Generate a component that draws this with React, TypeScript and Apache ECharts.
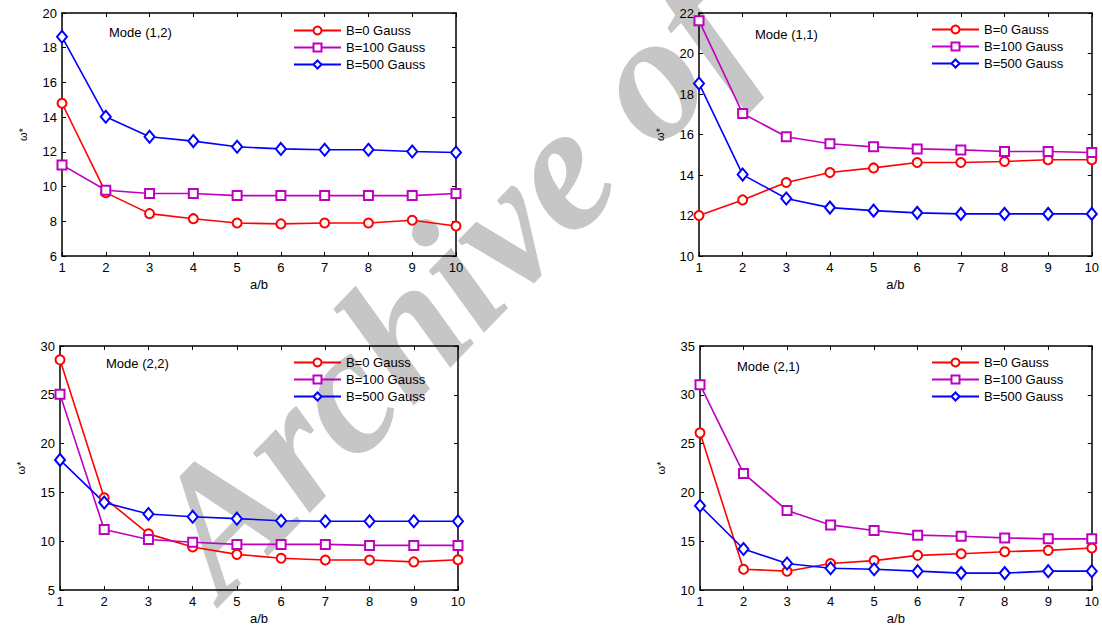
import React, { useEffect, useRef } from "react";
import * as echarts from "echarts";

const ab = [1, 2, 3, 4, 5, 6, 7, 8, 9, 10];
const seriesNames = ["B=0 Gauss", "B=100 Gauss", "B=500 Gauss"];

// Mode (1,2)
const m12_B0 = [14.8, 9.65, 8.44, 8.15, 7.9, 7.85, 7.9, 7.9, 8.06, 7.73];
const m12_B100 = [11.25, 9.79, 9.6, 9.6, 9.48, 9.48, 9.48, 9.48, 9.48, 9.6];
const m12_B500 = [18.63, 14.02, 12.87, 12.62, 12.29, 12.17, 12.12, 12.12, 12.02, 11.96];

// Mode (1,1)
const m11_B0 = [12.0, 12.77, 13.63, 14.12, 14.35, 14.62, 14.62, 14.67, 14.75, 14.75];
const m11_B100 = [21.62, 17.04, 15.89, 15.54, 15.39, 15.29, 15.24, 15.16, 15.16, 15.11];
const m11_B500 = [18.52, 14.02, 12.84, 12.39, 12.24, 12.13, 12.08, 12.08, 12.08, 12.08];

// Mode (2,2)
const m22_B0 = [28.58, 14.44, 10.75, 9.4, 8.65, 8.25, 8.08, 8.08, 7.88, 8.1];
const m22_B100 = [25.06, 11.19, 10.18, 9.9, 9.67, 9.67, 9.67, 9.57, 9.57, 9.57];
const m22_B500 = [18.33, 13.96, 12.78, 12.51, 12.31, 12.1, 12.04, 12.04, 12.04, 12.04];

// Mode (2,1)
const m21_B0 = [26.1, 12.13, 11.93, 12.71, 13.01, 13.55, 13.72, 13.92, 14.06, 14.3];
const m21_B100 = [31.04, 21.94, 18.15, 16.67, 16.09, 15.62, 15.51, 15.34, 15.24, 15.24];
const m21_B500 = [18.63, 14.2, 12.71, 12.23, 12.13, 11.93, 11.73, 11.73, 11.93, 11.93];

const modeTitles = ["Mode (1,2)", "Mode (1,1)", "Mode (2,2)", "Mode (2,1)"];
const yMins = [6, 10, 5, 10];
const yMaxs = [20, 22, 30, 35];
const yIntervals = [2, 2, 5, 5];
const panelData = [
  [m12_B0, m12_B100, m12_B500],
  [m11_B0, m11_B100, m11_B500],
  [m22_B0, m22_B100, m22_B500],
  [m21_B0, m21_B100, m21_B500],
];
const watermarkText = "Archive of";

const FONT = '"Liberation Sans", Arial, sans-serif';
const colors = ["#ff0000", "#bf00bf", "#0000ff"];
const symbols = ["emptyCircle", "emptyRect", "emptyDiamond"];
const symbolSizes: any[] = [9, 9, [10, 12]];

const grids = [
  { left: 62, top: 13, width: 394, height: 243 },
  { left: 699, top: 13, width: 394, height: 243 },
  { left: 60, top: 346, width: 398, height: 246 },
  { left: 700, top: 346, width: 393, height: 246 },
];
const legendPos = [
  { left: 293, top: 24 },
  { left: 931, top: 23 },
  { left: 293, top: 356 },
  { left: 931, top: 356 },
];
const modePos = [
  { x: 109, y: 32 },
  { x: 755, y: 34 },
  { x: 106, y: 363 },
  { x: 737, y: 366 },
];

export default function App() {
  const ref = useRef<HTMLDivElement>(null);
  useEffect(() => {
    if (!ref.current) return;
    const chart = echarts.init(ref.current, null, { renderer: "svg" });
    const axisLine = { show: true, lineStyle: { color: "#000", width: 1.5 } };
    const xAxes: any[] = [];
    const yAxes: any[] = [];
    const series: any[] = [];
    grids.forEach((_, g) => {
      xAxes.push({
        type: "value",
        gridIndex: g,
        position: "bottom",
        min: 1,
        max: 10,
        interval: 1,
        axisLine,
        axisTick: { inside: true, length: 4, lineStyle: { color: "#000" } },
        axisLabel: { color: "#000", fontFamily: FONT, fontSize: 13, margin: 5 },
        splitLine: { show: false },
        name: "a/b",
        nameLocation: "middle",
        nameGap: 22,
        nameTextStyle: { color: "#000", fontFamily: FONT, fontSize: 13 },
      });
      xAxes.push({
        type: "value",
        gridIndex: g,
        position: "top",
        min: 1,
        max: 10,
        interval: 1,
        axisLine,
        axisTick: { inside: true, length: 4, lineStyle: { color: "#000" } },
        axisLabel: { show: false },
        splitLine: { show: false },
      });
      yAxes.push({
        type: "value",
        gridIndex: g,
        position: "left",
        min: yMins[g],
        max: yMaxs[g],
        interval: yIntervals[g],
        axisLine,
        axisTick: { show: true, inside: true, length: 4, lineStyle: { color: "#000" } },
        axisLabel: { color: "#000", fontFamily: FONT, fontSize: 13, margin: 5 },
        splitLine: { show: false },
        name: "ω*",
        nameLocation: "middle",
        nameRotate: 90,
        nameGap: 34,
        nameTextStyle: { color: "#000", fontFamily: FONT, fontSize: 11 },
      });
      yAxes.push({
        type: "value",
        gridIndex: g,
        position: "right",
        min: yMins[g],
        max: yMaxs[g],
        interval: yIntervals[g],
        axisLine,
        axisTick: { show: true, inside: true, length: 4, lineStyle: { color: "#000" } },
        axisLabel: { show: false },
        splitLine: { show: false },
      });
      panelData[g].forEach((vals, s) => {
        series.push({
          type: "line",
          name: seriesNames[s],
          xAxisIndex: g * 2,
          yAxisIndex: g * 2,
          data: ab.map((x, i) => [x, vals[i]]),
          symbol: symbols[s],
          symbolSize: symbolSizes[s],
          showAllSymbol: true,
          clip: false,
          lineStyle: { color: colors[s], width: 1.6 },
          itemStyle: { color: colors[s], borderWidth: 1.6 },
          z: 3,
        });
      });
    });

    const legends = legendPos.map((p) => ({
      orient: "vertical",
      left: p.left,
      top: p.top,
      padding: 0,
      itemWidth: 47,
      itemHeight: 10,
      itemGap: 4,
      data: seriesNames,
      selectedMode: false,
      textStyle: { color: "#000", fontFamily: FONT, fontSize: 13, lineHeight: 13 },
    }));

    const graphics: any[] = [
      {
        type: "text",
        x: 180,
        y: 560,
        rotation: (46 * Math.PI) / 180,
        z: -10,
        silent: true,
        style: {
          text: watermarkText,
          fontFamily: "Liberation Serif",
          fontStyle: "italic",
          fontWeight: "bold",
          fontSize: 180,
          fill: "#c6c6c6",
          align: "left",
          verticalAlign: "middle",
        },
      },
      ...modePos.map((p, i) => ({
        type: "text",
        x: p.x,
        y: p.y,
        z: 10,
        style: {
          text: modeTitles[i],
          fontFamily: "Liberation Sans",
          fontSize: 13,
          fill: "#000",
          align: "left",
          verticalAlign: "middle",
        },
      })),
    ];

    chart.setOption({
      animation: false,
      backgroundColor: "#fff",
      grid: grids.map((g) => ({ ...g, show: false })),
      xAxis: xAxes,
      yAxis: yAxes,
      legend: legends,
      graphic: graphics,
      series,
    });
    return () => chart.dispose();
  }, []);
  return (
    <div
      ref={ref}
      style={{ position: "absolute", left: 0, top: 0, width: 1102, height: 626, background: "#fff" }}
    />
  );
}
